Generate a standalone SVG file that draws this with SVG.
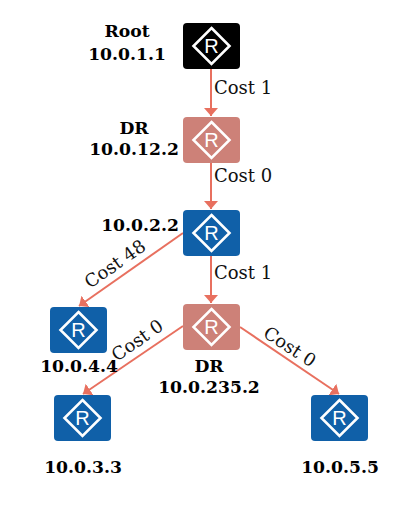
<svg xmlns="http://www.w3.org/2000/svg" width="415" height="519" viewBox="0 0 415 519">
<style>
.box{stroke:none}
.blue{fill:#1060a8}
.black{fill:#000}
.dr{fill:#cd8178}
.dia{fill:none;stroke:#fff;stroke-width:2.6}
.r{font-family:"Liberation Sans",sans-serif;font-size:20px;fill:#fff;text-anchor:middle}
.n{font-family:"DejaVu Serif",serif;font-size:17.2px;font-weight:bold;fill:#000;text-anchor:middle}
.c{font-family:"DejaVu Serif",serif;font-size:18px;fill:#111;}
.l{stroke:#e8705f;stroke-width:2;fill:none;marker-end:url(#a)}
</style>
<defs>
<marker id="a" markerUnits="userSpaceOnUse" markerWidth="9" markerHeight="14" refX="8" refY="7" orient="auto"><path d="M0 0L8 7L0 14Z" fill="#e8705f"/></marker>
<g id="router"><rect class="box" width="57" height="46" rx="4"/><path class="dia" d="M28.500 5L46.500 23L28.500 41L10.500 23Z"/><text class="r" x="28.500" y="30">R</text></g>
</defs>
<g id="connectors">
<line class="l" x1="211" y1="69" x2="211" y2="116"/>
<line class="l" x1="211" y1="163" x2="211" y2="209"/>
<line class="l" x1="211" y1="256" x2="211" y2="303"/>
<line class="l" x1="183" y1="233" x2="79" y2="306"/>
<line class="l" x1="183" y1="326" x2="83" y2="394"/>
<line class="l" x1="240" y1="327" x2="339" y2="394"/>
</g>
<g id="labels">
<text class="c" x="214" y="94">Cost 1</text>
<text class="c" x="214" y="182">Cost 0</text>
<text class="c" x="214" y="279">Cost 1</text>
<text class="c" transform="translate(90 289) rotate(-35)">Cost 48</text>
<text class="c" transform="translate(117 362) rotate(-35)">Cost 0</text>
<text class="c" transform="translate(262 336) rotate(33)">Cost 0</text>
</g>
<g id="n1"><use href="#router" class="black" x="183" y="23"/><text class="n" x="127" y="37">Root</text><text class="n" x="127" y="60">10.0.1.1</text></g>
<g id="n2"><use href="#router" class="dr" x="183" y="117"/><text class="n" x="134" y="134">DR</text><text class="n" x="134" y="155">10.0.12.2</text></g>
<g id="n3"><use href="#router" class="blue" x="183" y="210"/><text class="n" x="140" y="231">10.0.2.2</text></g>
<g id="n4"><use href="#router" class="blue" x="50" y="307"/><text class="n" x="79" y="372">10.0.4.4</text></g>
<g id="n5"><use href="#router" class="dr" x="183" y="304"/><text class="n" x="209" y="372">DR</text><text class="n" x="209" y="393">10.0.235.2</text></g>
<g id="n6"><use href="#router" class="blue" x="54" y="395"/><text class="n" x="83" y="473">10.0.3.3</text></g>
<g id="n7"><use href="#router" class="blue" x="311" y="395"/><text class="n" x="340" y="473">10.0.5.5</text></g>
</svg>
